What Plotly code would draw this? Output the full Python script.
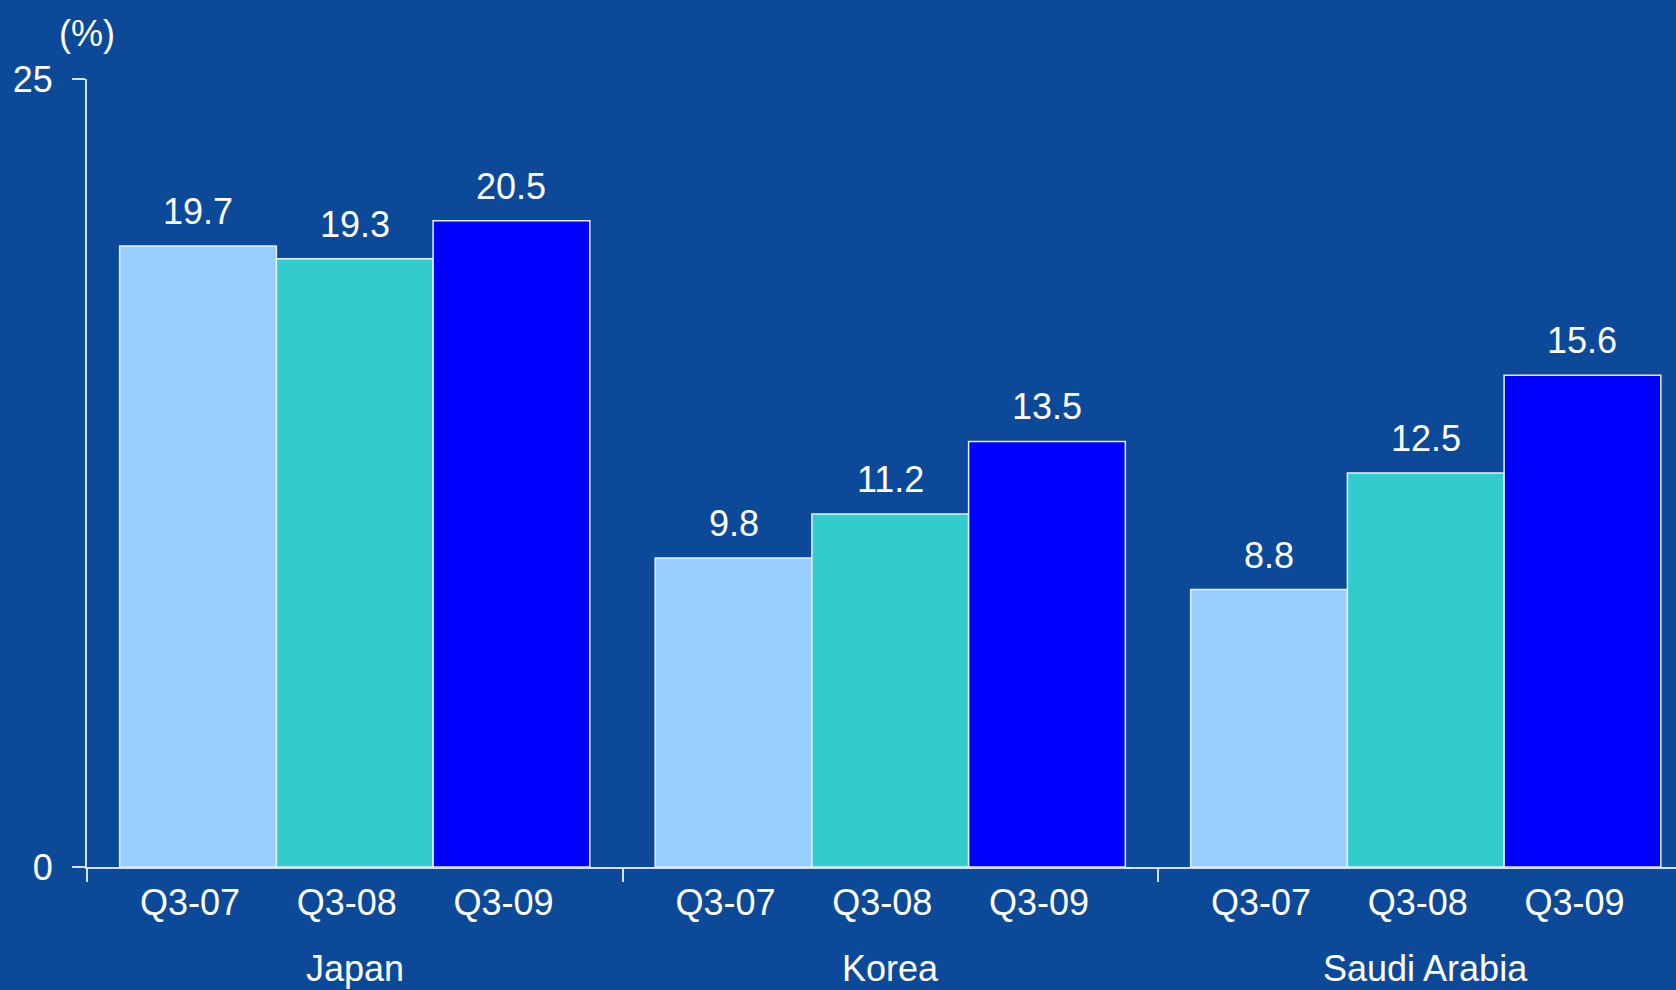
import plotly.graph_objects as go

countries = ["Japan", "Korea", "Saudi Arabia"]
quarters = ["Q3-07", "Q3-08", "Q3-09"]
values = {
    "Q3-07": [19.7, 9.8, 8.8],
    "Q3-08": [19.3, 11.2, 12.5],
    "Q3-09": [20.5, 13.5, 15.6],
}
colors = {"Q3-07": "#99ccff", "Q3-08": "#33cccc", "Q3-09": "#0000ff"}
y_ticks = [0, 25]

BG = "#0c4a99"
AX = "#cfe3f2"
FONT = "Liberation Sans, Arial, Helvetica, sans-serif"

bargap = 0.122
bar_w = (1 - bargap) / len(quarters)
group_pos = list(range(len(countries)))

W, H = 1676, 990
ML, MT, MB, MR = 87, 79, 123, 0
label_nudge = -0.015  # tick labels sit slightly left of bar centres

fig = go.Figure()
for i, q in enumerate(quarters):
    fig.add_trace(go.Bar(
        x=group_pos, y=values[q], name=q,
        marker=dict(color=colors[q], line=dict(color="#e4f0fb", width=1.5)),
        showlegend=False, hoverinfo="skip",
    ))

tickvals, ticktext = [], []
annotations = []
for g, c in enumerate(countries):
    for i, q in enumerate(quarters):
        xc = g + (i - (len(quarters) - 1) / 2) * bar_w
        tickvals.append(xc + label_nudge)
        ticktext.append(q)
        annotations.append(dict(
            x=xc, y=values[q][g], xref="x", yref="y", text=f"{values[q][g]:.1f}",
            showarrow=False, yanchor="bottom", yshift=12,
            font=dict(size=36, color="white", family=FONT),
        ))
    annotations.append(dict(
        x=g, y=0, xref="x", yref="paper", text=c, showarrow=False,
        yanchor="middle", yshift=-101,
        font=dict(size=36, color="white", family=FONT),
    ))
annotations.append(dict(
    x=0, y=1 + (MT - 33) / (H - MT - MB), xref="paper", yref="paper", text="(%)",
    showarrow=False, xanchor="center", yanchor="middle",
    font=dict(size=36, color="white", family=FONT),
))

x_right = -0.5 + (W - ML - MR) / 535.5

fig.update_layout(
    width=W, height=H,
    margin=dict(l=ML, r=MR, t=MT, b=MB, pad=0),
    paper_bgcolor=BG, plot_bgcolor=BG,
    barmode="group", bargap=bargap, bargroupgap=0,
    font=dict(family=FONT, color="white", size=36),
    annotations=annotations,
    xaxis=dict(
        range=[-0.5, x_right], tickmode="array", tickvals=tickvals, ticktext=ticktext,
        ticks="", showgrid=False, zeroline=False, showline=True,
        linecolor=AX, linewidth=2, ticklabelstandoff=3,
        tickfont=dict(size=36, color="white", family=FONT),
        minor=dict(tickmode="array", tickvals=[-0.5, 0.5, 1.5], ticks="outside",
                   ticklen=13, tickwidth=2, tickcolor=AX, showgrid=False),
    ),
    yaxis=dict(
        range=[0, 25], tickmode="array", tickvals=y_ticks, ticks="outside",
        ticklen=13, tickwidth=2, tickcolor=AX, showgrid=False, zeroline=False,
        showline=True, linecolor=AX, linewidth=2, ticklabelstandoff=12,
        tickfont=dict(size=36, color="white", family=FONT),
    ),
)

fig.write_html(
    "out.html",
    config={"displayModeBar": False},
    post_script="document.body.style.margin='0';document.body.style.overflow='hidden';",
)
